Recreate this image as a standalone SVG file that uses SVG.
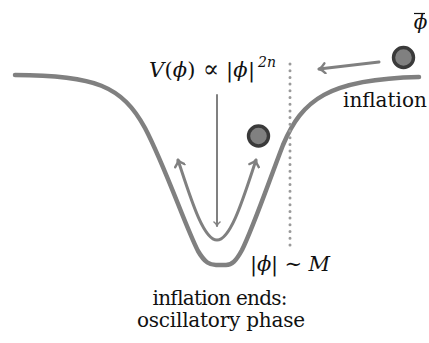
<svg xmlns="http://www.w3.org/2000/svg" width="429" height="343" viewBox="0 0 429 343">
<style>
text{font-family:"DejaVu Serif","Liberation Serif",serif;fill:#111}
.f20{font-size:20px}
.f21{font-size:21px}
.sup{font-size:14px;font-style:italic}
.i{font-style:italic}
.curve{fill:none;stroke:#808080;stroke-linecap:round}
.ball{fill:#808080;stroke:#3a3a3a;stroke-width:3.4}
</style>
<defs>
<marker id="ah" markerWidth="12" markerHeight="12" refX="0" refY="0" viewBox="-8 -6 10 12" orient="auto-start-reverse" markerUnits="userSpaceOnUse">
<path d="M-6,-5 Q-3,-1 0,0 Q-3,1 -6,5" fill="none" stroke="#808080" stroke-width="2.4" stroke-linecap="round" stroke-linejoin="round"/>
</marker>
<marker id="ahs" markerWidth="8" markerHeight="8" refX="0" refY="0" viewBox="-5 -4 6 8" orient="auto" markerUnits="userSpaceOnUse">
<path d="M-4,-3 Q-2,-0.5 0,0 Q-2,0.5 -4,3" fill="none" stroke="#808080" stroke-width="1.6" stroke-linecap="round"/>
</marker>
</defs>
<g id="potential">
<path class="curve" stroke-width="4.5" d="M15,75 C95,75 122,86 145,128 C165,166 186,228 198,251 C205,263 210,265 216,265 L226,265 C232,265 236,261 242,250 C253,228 268,184 283,145 C302,100 328,79 419,77"/>
</g>
<g id="connectors">
<path class="curve" stroke-width="3" d="M178,160 C190,196 203,240 217,240 C231,240 244,196 256,160" marker-start="url(#ah)" marker-end="url(#ah)"/>
<line class="curve" stroke-width="2" x1="217" y1="95" x2="217" y2="226" marker-end="url(#ahs)"/>
<line class="curve" stroke-width="3" x1="379" y1="62" x2="319" y2="69" marker-end="url(#ah)"/>
<line x1="290" y1="64" x2="290" y2="248" stroke="#9a9a9a" stroke-width="3" stroke-linecap="round" stroke-dasharray="0 6.7"/>
</g>
<g id="ball-top"><circle class="ball" cx="403.5" cy="57.5" r="10"/></g>
<g id="ball-mid"><circle class="ball" cx="258.5" cy="136" r="10"/></g>
<g id="labels">
<text class="f20 i" x="420.5" y="29" text-anchor="middle">ϕ</text>
<line x1="414" y1="13.5" x2="425" y2="13.5" stroke="#111" stroke-width="1.2"/>
<text class="f21" x="149" y="77" textLength="106" lengthAdjust="spacing"><tspan class="i">V</tspan>(<tspan class="i">ϕ</tspan>) <tspan style="font-size:24px">∝</tspan> |<tspan class="i">ϕ</tspan>|</text>
<text class="sup" x="258" y="67">2n</text>
<text class="f20" x="343" y="107">inflation</text>
<text class="f21" x="250" y="271" textLength="80" lengthAdjust="spacing">|<tspan class="i">ϕ</tspan>| ∼ <tspan class="i">M</tspan></text>
<text class="f20" x="220" y="305" text-anchor="middle" textLength="135">inflation ends:</text>
<text class="f20" x="221" y="327" text-anchor="middle" textLength="168">oscillatory phase</text>
</g>
</svg>
